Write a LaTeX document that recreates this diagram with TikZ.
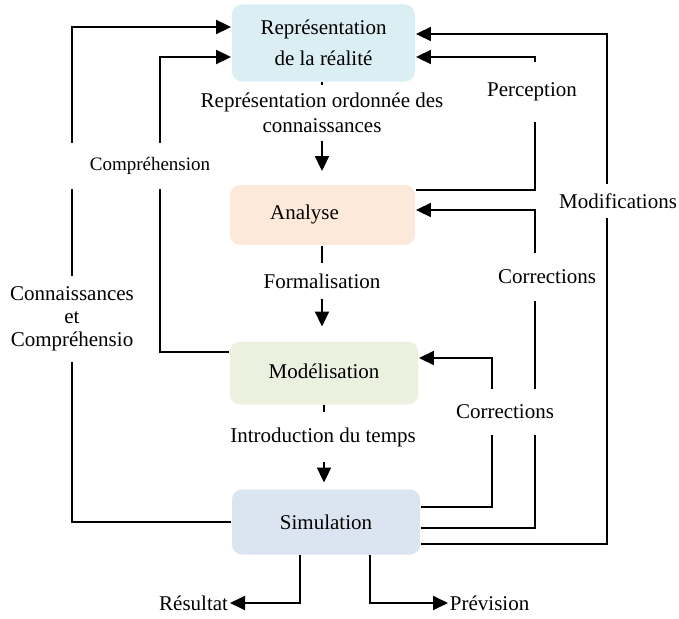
\documentclass[tikz,border=0pt]{standalone}
\usepackage{fontspec}
\setmainfont{Liberation Serif}
\usetikzlibrary{arrows.meta,calc}
\definecolor{repc}{HTML}{DAEEF3}
\definecolor{anac}{HTML}{FDE9D9}
\definecolor{modc}{HTML}{EBF1DE}
\definecolor{simc}{HTML}{DBE5F1}
\tikzset{box/.style={rounded corners=10pt,minimum width=186pt,minimum height=62pt,inner sep=0pt,align=center},lbl/.style={fill=white,inner xsep=1pt,align=center},arr/.style={-{Triangle[length=15pt,width=14pt]}}}

\begin{document}
\begin{tikzpicture}[x=1pt,y=-1pt,line width=1.9pt,font=\fontsize{21}{25}\selectfont]
    \useasboundingbox (0,0) rectangle (679,618);
    % boxes
    \node[box,fill=repc,minimum width=183pt,minimum height=77pt] (rep) at (323.5,43) {\raisebox{-6pt}{\shortstack{Représentation\\[9pt]de la réalité}}};
    \node[box,fill=anac,minimum width=185pt,minimum height=60pt] (ana) at (322.5,215) {\raisebox{5pt}{Analyse}\hspace{36pt}};
    \node[box,fill=modc,minimum width=188pt,minimum height=63pt] (mod) at (324,373) {\raisebox{4pt}{Modélisation}};
    \node[box,fill=simc,minimum width=188pt,minimum height=65pt] (sim) at (326,522) {Simulation};
    \node[anchor=east,inner sep=1pt] (res) at (230,603) {Résultat};
    \node[anchor=west,inner sep=1pt] (prev) at (448,603) {Prévision};
    % connectors
    \draw[arr,shorten >=13pt] (rep.south -| 322,0) -- (ana.north -| 322,0);
    \draw[arr,shorten >=14pt] (ana.south -| 322,0) -- (mod.north -| 322,0);
    \draw[arr,shorten >=6pt] (mod.south -| 324,0) -- (sim.north -| 324,0);
    \draw[arr] (sim.west) -| (72,27) -- (rep.west |- 0,27);
    \draw[arr] (mod.west |- 0,352) -| (160,57) -- (rep.west |- 0,57);
    \draw[arr] (ana.east |- 0,190) -| (535,57) -- (rep.east |- 0,57);
    \draw[arr] (sim.east |- 0,544) -| (607,34) -- (rep.east |- 0,34);
    \draw[arr] (sim.east |- 0,528) -| (535,210) -- (ana.east |- 0,210);
    \draw[arr] (sim.east |- 0,507) -| (492,358) -- (mod.east |- 0,358);
    \draw[arr] (sim.south -| 300,0) |- (res.east);
    \draw[arr] (sim.south -| 370,0) |- (prev.west);
    % labels
    \node[lbl,inner ysep=8pt] (ord) at (322,113) {Représentation ordonnée des\\connaissances};
    \node[lbl,inner ysep=11pt] (form) at (322,281) {Formalisation};
    \node[lbl,inner ysep=15pt] (intro) at (323,437) {Introduction du temps};
    \node[lbl,inner ysep=11pt,font=\fontsize{21}{23}\selectfont] (conn) at (72,319) {Connaissances\\et\\Compréhensio};
    \node[lbl,inner ysep=14pt,minimum width=160pt,font=\fontsize{19}{23}\selectfont] (compr) at (146,166) {\hspace{8pt}Compréhension};
    \node[lbl,inner ysep=21pt] (perc) at (532,92) {Perception};
    \node[lbl,inner ysep=10pt] (modif) at (618,201) {Modifications};
    \node[lbl,inner ysep=17pt] (cor1) at (547,277) {Corrections};
    \node[lbl,inner ysep=16pt] (cor2) at (505,412) {Corrections};
\end{tikzpicture}
\end{document}
